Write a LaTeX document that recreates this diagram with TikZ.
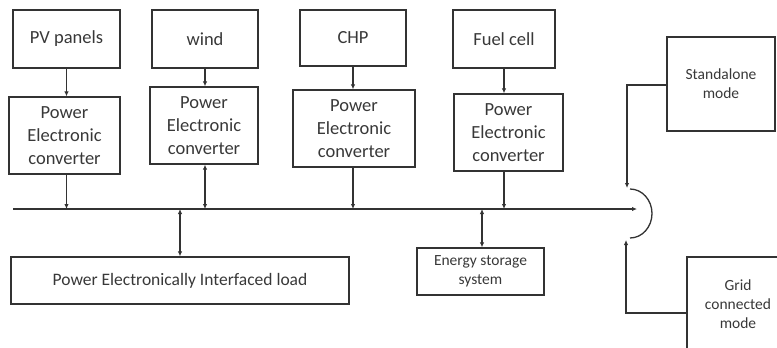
\documentclass[tikz,border=0pt]{standalone}
\usepackage{fontspec}
\setmainfont{Carlito}
\usetikzlibrary{positioning,arrows.meta}

\begin{document}
\begin{tikzpicture}[
  x=1pt,y=-1pt,
  line width=1.3pt,
  every node/.style={font=\fontsize{18.5}{23}\selectfont,text=black!78},
  blk/.style={draw=black!80,inner sep=0pt,align=center},
  smallblk/.style={blk,font=\fontsize{15.5}{19}\selectfont},
  tip/.style={draw=black!80,-{Latex[length=5pt,width=4.5pt]}},
  dtip/.style={draw=black!80,{Latex[length=5pt,width=4.5pt]}-{Latex[length=5pt,width=4.5pt]}}
]
\clip (0,0) rectangle (777,348);
% sources
\node[blk,minimum width=107pt,minimum height=58pt] (pv)   at (66.5,39) {PV panels};
\node[blk,minimum width=106pt,minimum height=58pt] (wind) at (205,39)  {wind};
\node[blk,minimum width=106pt,minimum height=56pt] (chp)  at (353,38)  {CHP};
\node[blk,minimum width=102pt,minimum height=58pt] (fc)   at (504,39)  {Fuel cell};
% converters
\node[blk,minimum width=111pt,minimum height=77pt] (pvc)   at (64.5,135.5) {Power\\Electronic\\converter};
\node[blk,minimum width=108pt,minimum height=77pt] (windc) at (204,125.5)  {Power\\Electronic\\converter};
\node[blk,minimum width=122pt,minimum height=77pt] (chpc)  at (354,128.5)  {Power\\Electronic\\converter};
\node[blk,minimum width=109pt,minimum height=77pt] (fcc)   at (508.5,132.5) {Power\\Electronic\\converter};
% loads and storage
\node[blk,minimum width=338pt,minimum height=47pt,font=\fontsize{17.5}{23}\selectfont] (load)  at (180,280.5) {Power Electronically Interfaced load};
\node[smallblk,minimum width=127pt,minimum height=47pt] (store) at (480.5,271.5) {Energy storage\\system};
% operating modes
\node[smallblk,minimum width=108pt,minimum height=94pt] (sa)   at (721,84)  {Standalone\\mode};
\node[smallblk,minimum width=102pt,minimum height=94pt] (grid) at (738,304) {Grid\\connected\\mode};
% bus
\coordinate (busL) at (13,209);
\coordinate (busR) at (637,209);
\coordinate (saIn) at (627,188);
\coordinate (gridIn) at (626,240);
\draw[tip] (busL) -- (busR);
% source to converter to bus
\foreach \s/\c in {pv/pvc,chp/chpc,fc/fcc}{
  \draw[tip] (\s.south) -- (\s.south |- \c.north);
  \draw[tip] (\s.south |- \c.south) -- (\s.south |- busL);
}
\draw[tip] (wind.south) -- (wind.south |- windc.north);
\draw[dtip] (wind.south |- windc.south) -- (wind.south |- busL);
\draw[dtip] (load.north |- busL) -- (load.north);
\draw[dtip] ([xshift=1.5pt]store.north |- busL) -- ([xshift=1.5pt]store.north);
% switch
\draw[draw=black!80] (630,189) arc[start angle=90,end angle=-90,x radius=22pt,y radius=24.5pt];
\draw[tip] (sa.west |- 0,85) -| (saIn);
\draw[tip] (grid.west |- 0,313) -| (gridIn);
\end{tikzpicture}
\end{document}
